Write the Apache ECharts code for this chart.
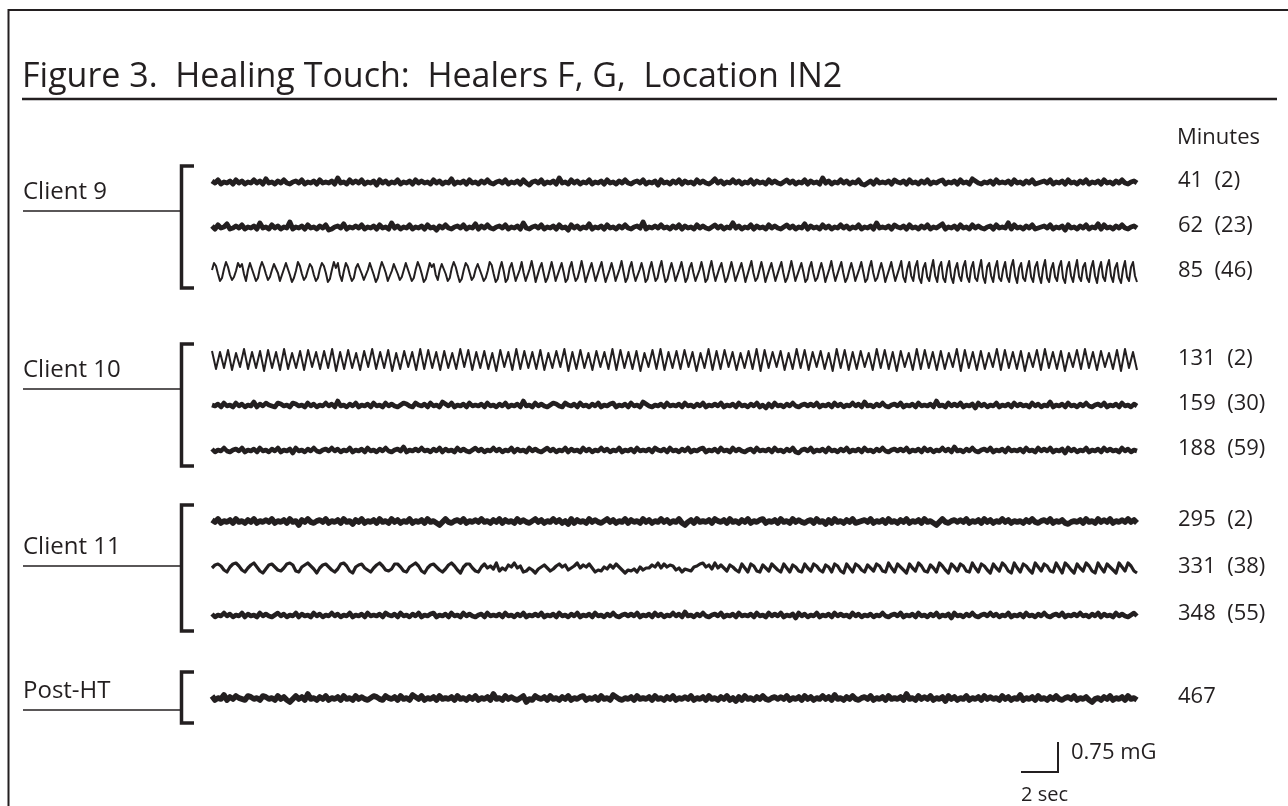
<!DOCTYPE html>
<html>
<head>
<meta charset="utf-8">
<script src="https://cdn.jsdelivr.net/npm/echarts@6/dist/echarts.min.js"></script>
<style>
html, body { margin: 0; padding: 0; background: #fff; }
#chart { width: 1288px; height: 806px; }
</style>
</head>
<body>
<div id="chart"></div>
<script>
// each trace is one letter per sample: 'm' = 0, one letter step = 0.025 mG
const mgStep = 0.025
const duration = 50 // seconds per trace

const groups = ['Client 9', 'Client 10', 'Client 11', 'Post-HT']
const minutes = ['41  (2)', '62  (23)', '85  (46)', '131  (2)', '159  (30)', '188  (59)', '295  (2)', '331  (38)', '348  (55)', '467']
const scaleBar = { sec: 2, mG: 0.75 }

const c9m41 = `nlokmlnkol nkmlolnkpl mknlolkmnl okmlnkolml nkqlmkolnl okmlnjolnk mlokmlnkol nlmkolnkml
pkmlnkolmk nlolkmnlok mlnkoljmnl okmlnkqlmk olnkmlokml nkolmknlol kmnlokmlnj olmknloknl
mkolnlkmpl nkmlolnkml oknlmkolnl kmolnkmlok nlmkqlnkml olnkmlokjl nkolmlnkom lnkolmknlo
kmlnokmlnk olmkpnlkml nkolmlnkol mknloklmnl okmlnkolmk nlokmlnkol mknlolkmnl`
const c9m62 = `nkolmpklnl okmlnkqlmk olnkmlrkml nkolmknloj kmnlpkmlnl okmlnkolmk qlnkmlokml nkolmjnlol
kmnlokmlpk nlolkmnlok mlnkqlkmnl okmlnkolmj olnkmlpkml nkolmknlol kmnlrkmlnl olmknloknl
mkolnlkmol nkmlqlnkml oknlmkolnl kmolnkmlpk nlmkolnkml olnkmlokml nkqlmlnkom lnkolmknlo
kmlnpkmlnk olmkolnlkm nkolmlqkol mknloklmnl okmlnjolmk nlokmlpkol mknlolkmnl`
const c9m85 = `ovskdg pwrjeh nvrukd ovtjdg qwrkeh ousldf pvtjcg nwskeh ourjdg pvslcf owqvjd nvrjdg
qusked ovtjcg pwrldf nuskeh ovtjdg pwrkcf nvruje outkdg qwrjcf ovsleh pusjdg nwtkcf
pwncf qvmde owldf pxnce qvlcg ownde pvmcf qwldg oxnce pvmdf qwlce ovndf pxmcg qwlde ovncf
pwmdg qxlcf ovnde pwmcg qvldf owncf pxmde qvlcg owndf pvmce qxldg ownce pvmdf qwlcg oxnde
pvmcf qwldg ovnce pxmdf qwlcg ovnde pwmcf qxldg ovnce pwmdf
qxhc pwid rxgb qvhd pyic rwgc qxhb pvid rxhc qwgd pyhb rvic qxgd pwhc ryib qvgd pxhc rwib
qygc pvhd rxgb qwic pyhd rvgc qxib pwhd ryic qvgb pxhd rwic`
const c10m131 = `vdue wctf xdue vbwe ucxd tevc wfud vexb udwe tcvf xdue wbtd vfuc xdwe ucve tdxf wcue vdtb
wfuc xdve udwc tevf xbud wetc vfud xcwe udvb tfwd xcue vdwf ubte xcvd wfuc tevd xbwe ufvc
tdxe wcuf vdtb xewc udvf tcxe wdub vftc xdwe ucvd tfxb weuc vdtf xcwe udvb tfwc xeud vbtf
wdxe ucvf tdwb xeuc`
const c10m159 = `mlnkolmkol nkmlpknlom lkonlmkonl mkolnkmlol nkqlmknlok mlnkolmkol nlkmonlkom lnkolmkpnl
okmlnkolml nkolmknlok mlnkqlmkol nlkmonlkom lnkolmknlo kmlnokmlnk olmkpnlkml nkolmlnkol
mknlokmlnl okmlnkolmk nlokmjnkol mknlolkmnl nlokmlnkol nkmlolnkpl mknlolkmnl okmlnkolml
nkqlmkolnl okmlnjolnk mlokmlnkol nlmkolnkml pkmlnkolmk nlolkmnlok mlnkolmknl`
const c10m188 = `nkmlolkmnl okmlnkolmk nlokmlnjol mknlolkmnl olnkmlokml nkolmknlol kmnlpkmlnl olmknloknl
mkolnlkmol nkmlolnkml oknlmkolnl kmolnkmlok nlmkolnkml olnkmlokml nkolmlnkom lnkolmknlo
kmlnokmlnk olmkolnlkm nkolmlnkol mknlokjmnl okmlnkolmk nlokmlnkol mknlolkmnl nlokmlnkol
nkmlolnkpl mknlolkmnl okmlnkolml nkolmkolnl okmlnjolnk mlokmlnkol nlmkolnkml`
const c11m295 = `nlokmlnkol mknlokmlnl okmlnkolmi nlolkmnlok mlnkolmjnl okmlnkolmk olnkmlokml nkolmkilol
kmnlokmlnl olmknloknl mkolnlkmol nkmlolnkmj oknlmkolnl kmolnkmlok nlmkolnkml olnkmlokil
nkolmlnkom lnkolmknlo kmlnokmlnk olmkolnlkm nkolmjnkol mknloklmnl okmlnkolmk nlokmlnkol
mkilolkmnl nlokmlnkol nkmlolnkml mknlolkmnl okmlnkjlml nkolmkolnl okmlnlolnk`
const c11m331 = `mpqoki nqroki mprnjh lpqnkj mqrpji nprolh mpqnki lqrojh npqmki mprokj lqqnji nprojh mpqnki
lprokh nqqmji
nqmolrjm kpnrmoij mkhlnpmj loqnpkmo rmpnqmik jnlpmqnk hkjlinkm mpnrmqnp okmilkjn oqrnplrm
pmjpnki qmiqoji pmjqnki qmipnji qmjqoki pniqojh qmiqoki pmjqoji rmiqnkh qmjroji pmirokh
qnjqoji rmiqokh qmjrojh rmiqokh rnjqoji rmhrokh qmjrojh rmiqnkh rnjrojh`
const c11m348 = `nkmlolnkml oknlmkolnl kmolnkmlok nlmkolnkml olnkmlokml nkolmlnkom lnkolmknlo kmlnokmlnk
olmkolnlkm nkolmlnkol mknlokmlnl okmlnkolmk nlokmlnkol mknlolkmnl nlokmlnkol nkmlolnkpl
mknlolkmnl okmlnkolml nkolmkolnl okmlnjolnk mlokmlnkol nlmkolnkml nkmlolkmnl okmlnkolmk
nlokmlnjol mknlolkmnl olnkmlokml nkolmknlol kmnlokmlnl olmknloknl mkolnlkmol`
const postm467 = `okmlpknlom lkonlmkonl mkolnkilol nkqlmknlok mlnkolmkol nlkmonlkom lnkolmkpnl okmlnkolml
nkolmknlok mlnkqlmkol nlkmoilkom lnkolmknlo kmlnokmlnk olmkpnlkml nkolmlnkol mknlokmlnl
okmlnkolmk nlokmjnkol mknlolkmnl nlokmlnkol nkmlolnkpl mknlolkmnl okmlnkolml nkqlmkolnl
okmlnjolnk mlokmlnkol nlmkolnkml pkmlnkolmk nlolkmnlok mlnkilmknl okmlnkolmk`

const traces = [c9m41, c9m62, c9m85, c10m131, c10m159, c10m188, c11m295, c11m331, c11m348, postm467]

// layout (pixels)
const plotLeft = 212
const plotWidth = 925
const rowY = [182, 227, 272, 360, 405, 450, 521, 568, 615, 698]
const traceWidth = [5, 5, 2, 2, 4.6, 4.6, 5.6, 3.2, 4.6, 5.6]
const bracketSpan = [[166, 288], [344, 466], [505, 631], [672, 723]]
const labelLineY = [211, 389, 566, 710]
const ink = '#231f20'

const toPoints = str => {
  const s = str.replace(/\s+/g, '')
  const n = s.length
  return Array.from(s, (ch, k) => [k * duration / (n - 1), (ch.charCodeAt(0) - 109) * mgStep])
}

const grid = []
const xAxis = []
const yAxis = []
const series = []

traces.forEach((t, i) => {
  grid.push({ left: plotLeft, width: plotWidth, top: rowY[i] - 20, height: 40 })
  xAxis.push({ gridIndex: i, type: 'value', min: 0, max: duration, show: false })
  yAxis.push({ gridIndex: i, type: 'value', min: -0.5, max: 0.5, show: false })
  series.push({
    type: 'line',
    xAxisIndex: i,
    yAxisIndex: i,
    data: toPoints(t),
    showSymbol: false,
    clip: false,
    lineStyle: { color: ink, width: traceWidth[i], join: 'round' }
  })
})

// scale bar, same px per sec and px per mG as the traces
const sb = traces.length
grid.push({ left: 1021, width: plotWidth / 5, top: 732, height: 50 })
xAxis.push({ gridIndex: sb, type: 'value', min: 0, max: duration / 5, show: false })
yAxis.push({ gridIndex: sb, type: 'value', min: -0.25, max: 1, show: false })
series.push({
  type: 'line',
  xAxisIndex: sb,
  yAxisIndex: sb,
  data: [[0, 0], [scaleBar.sec, 0], [scaleBar.sec, scaleBar.mG]],
  showSymbol: false,
  clip: false,
  lineStyle: { color: ink, width: 2, join: 'miter' }
})

const txt = (text, x, y, size) => ({
  type: 'text',
  style: {
    text: text, x: x, y: y, fill: ink,
    font: size + 'px "Open Sans", sans-serif',
    textVerticalAlign: 'middle', verticalAlign: 'middle'
  }
})
const seg = (x1, y1, x2, y2, w) => ({
  type: 'line', shape: { x1: x1, y1: y1, x2: x2, y2: y2 }, style: { stroke: ink, lineWidth: w }
})

const graphic = [
  seg(8.5, 10, 1288, 10, 2),
  seg(8.5, 9, 8.5, 806, 2),
  txt('Figure 3.  Healing Touch:  Healers F, G,  Location IN2', 22, 77, 34),
  seg(22, 99, 1277, 99, 2.5),
  txt('Minutes', 1177, 138, 22)
]
minutes.forEach((m, i) => graphic.push(txt(m, 1178, rowY[i] - 1, 22)))
groups.forEach((g, gi) => {
  const [top, bottom] = bracketSpan[gi]
  graphic.push({
    type: 'polyline',
    shape: { points: [[194, top], [181.5, top], [181.5, bottom], [194, bottom]] },
    style: { stroke: ink, lineWidth: 3.5, fill: null, lineJoin: 'miter' }
  })
  graphic.push(seg(23, labelLineY[gi], 181, labelLineY[gi], 1.5))
  graphic.push(txt(g, 23, labelLineY[gi] - 19, 24))
})
graphic.push(txt(scaleBar.mG + ' mG', 1071, 753, 22))
graphic.push(txt(scaleBar.sec + ' sec', 1021, 795, 20))

const chart = echarts.init(document.getElementById('chart'))
chart.setOption({
  animation: false,
  backgroundColor: '#fff',
  grid: grid,
  xAxis: xAxis,
  yAxis: yAxis,
  series: series,
  graphic: graphic
})
</script>
</body>
</html>
